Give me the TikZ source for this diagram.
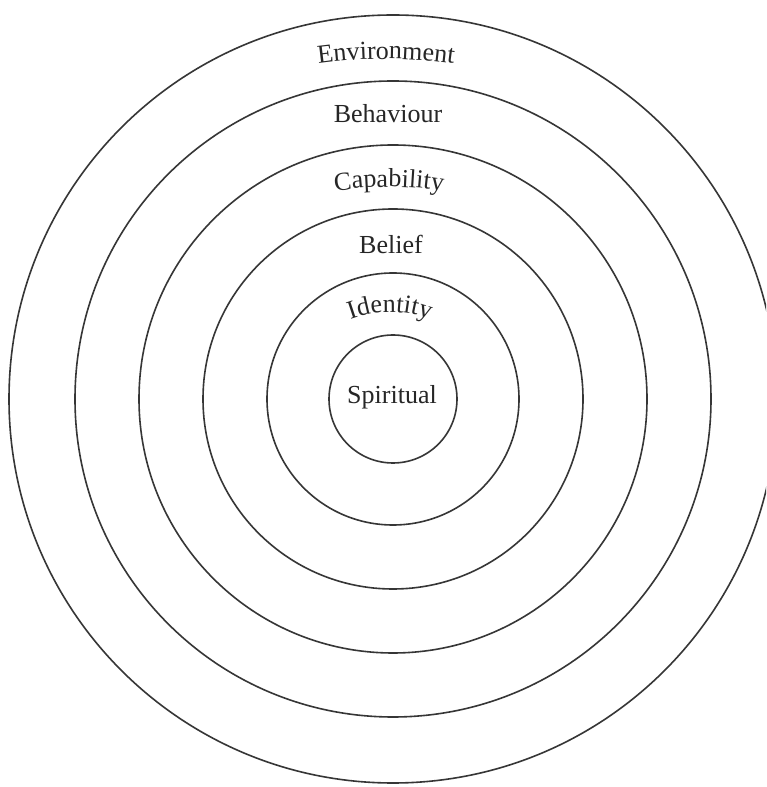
\documentclass[tikz,border=0pt]{standalone}
\usepackage{fontspec}
\setmainfont{Liberation Serif}
\usetikzlibrary{decorations.text}
\definecolor{ringgray}{HTML}{363636}
\definecolor{inkgray}{HTML}{262626}
\newcommand\ringfont{\fontsize{26}{30}\selectfont}
\begin{document}
\begin{tikzpicture}[x=1pt,y=1pt,
  ring/.style={circle, draw=ringgray, line width=1.6pt, inner sep=0pt, outer sep=0pt, minimum size=#1},
  lbl/.style={font=\ringfont, text=inkgray, anchor=base, inner sep=0pt},
  arclbl/.style={decorate, decoration={text along path, text align=center, text color=inkgray, text={|\ringfont|#1}}}]
\useasboundingbox (0,0) rectangle (766,787);
\clip (0,0) rectangle (766,787);
\fill[white] (0,0) rectangle (766,787);
\coordinate (C) at (393,388);
% rings
\node[ring=768pt] (environment) at (C) {};
\node[ring=636pt] (behaviour) at (C) {};
\node[ring=508pt] (capability) at (C) {};
\node[ring=380pt] (belief) at (C) {};
\node[ring=252pt] (identity) at (C) {};
\node[ring=128pt] (spiritual) at (C) {};
% labels
\coordinate (envc) at (386,228);
\path[arclbl={Environment}] (envc) ++(115:500) arc[start angle=115, end angle=65, radius=500];
\node[lbl] (behaviourlbl) at (388,664) {Behaviour};
\coordinate (capc) at (389,250);
\path[arclbl={Capability}] (capc) ++(110:350) arc[start angle=110, end angle=70, radius=350];
\node[lbl] (belieflbl) at (391,533) {Belief};
\coordinate (idc) at (390,362);
\path[arclbl={Identity}] (idc) ++(150:113) arc[start angle=150, end angle=30, radius=113];
\node[lbl] (spirituallbl) at (392,383) {Spiritual};
\end{tikzpicture}
\end{document}
